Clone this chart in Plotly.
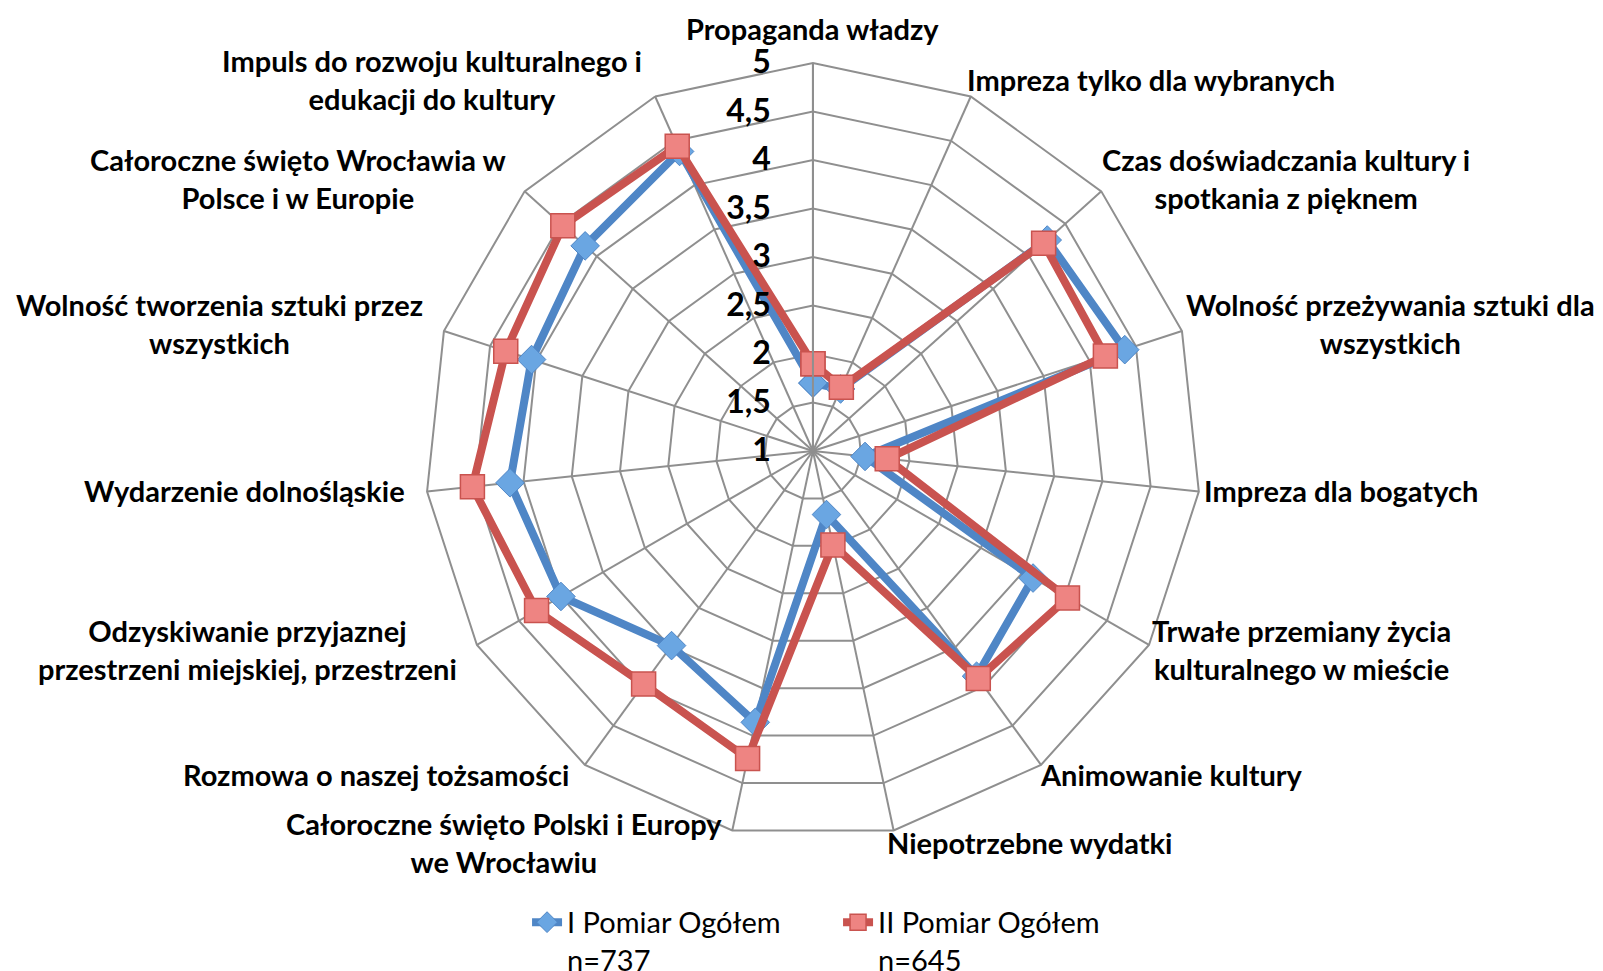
import math
import plotly.graph_objects as go

categories = [
    "Propaganda władzy",
    "Impreza tylko dla wybranych",
    "Czas doświadczania kultury i<br>spotkania z pięknem",
    "Wolność przeżywania sztuki dla<br>wszystkich",
    "Impreza dla bogatych",
    "Trwałe przemiany życia<br>kulturalnego w mieście",
    "Animowanie kultury",
    "Niepotrzebne wydatki",
    "Całoroczne święto Polski i Europy<br>we Wrocławiu",
    "Rozmowa o naszej tożsamości",
    "Odzyskiwanie przyjaznej<br>przestrzeni miejskiej, przestrzeni",
    "Wydarzenie dolnośląskie",
    "Wolność tworzenia sztuki przez<br>wszystkich",
    "Całoroczne święto Wrocławia w<br>Polsce i w Europie",
    "Impuls do rozwoju kulturalnego i<br>edukacji do kultury",
]

pomiar_1 = [1.70, 1.70, 4.25, 4.38, 1.54, 3.62, 3.87, 1.67, 3.86, 3.48, 4.00, 4.14, 4.05, 4.16, 4.38]
pomiar_2 = [1.90, 1.72, 4.20, 4.17, 1.77, 4.03, 3.90, 1.99, 4.24, 3.97, 4.29, 4.53, 4.33, 4.47, 4.44]

series_names = ["I Pomiar Ogółem<br>n=737", "II Pomiar Ogółem<br>n=645"]

radial_tickvals = [1, 1.5, 2, 2.5, 3, 3.5, 4, 4.5, 5]
radial_ticktext = ["1", "1,5", "2", "2,5", "3", "3,5", "4", "4,5", "5"]

W, H = 1603, 971
dom_x = [0.2601, 0.7442]
dom_y = [0.1442, 0.9434]

theta_closed = categories + categories[:1]

fig = go.Figure()
fig.add_trace(go.Scatterpolar(
    r=pomiar_1 + pomiar_1[:1], theta=theta_closed, mode="lines+markers",
    name=series_names[0],
    line=dict(color="#4F86C6", width=8),
    marker=dict(symbol="diamond", size=22, color="#6AA6E2",
                line=dict(color="#4F86C6", width=1)),
))
fig.add_trace(go.Scatterpolar(
    r=pomiar_2 + pomiar_2[:1], theta=theta_closed, mode="lines+markers",
    name=series_names[1],
    line=dict(color="#C9534F", width=8),
    marker=dict(symbol="square", size=24, color="#EE8482",
                line=dict(color="#C9534F", width=1.5)),
))

# category labels placed just outside the polygon, Excel-style (centred multi-line text)
cx = (dom_x[0] + dom_x[1]) / 2 * W
cy = (1 - (dom_y[0] + dom_y[1]) / 2) * H
R = (dom_x[1] - dom_x[0]) * W / 2
n = len(categories)
annotations = []
for i, lab in enumerate(categories):
    a = math.radians(360 * i / n)
    s, c = math.sin(a), math.cos(a)
    rr = R + 15
    px = cx + rr * s
    py = cy - rr * c - 3
    if abs(s) < 1e-6:
        xa, ya = "center", "bottom"
        py += 3
    elif s > 0:
        xa, ya = "left", "middle"
        px -= 12
    else:
        xa, ya = "right", "middle"
        px -= 5
    annotations.append(dict(
        text=lab, x=px / W, y=1 - py / H, xref="paper", yref="paper",
        xanchor=xa, yanchor=ya, align="center", showarrow=False,
        font=dict(size=29, family="Lato", color="black", weight="bold"),
    ))

grid = "#8F8F8F"
fig.update_layout(
    width=W, height=H,
    paper_bgcolor="white", plot_bgcolor="white",
    margin=dict(l=0, r=0, t=0, b=0, autoexpand=False),
    font=dict(family="Lato", color="black"),
    showlegend=True,
    legend=dict(orientation="h", x=0.3238, xanchor="left", y=-0.007, yanchor="bottom",
                font=dict(size=29, family="Lato", color="black"), entrywidth=266,
                valign="top", bgcolor="rgba(0,0,0,0)"),
    annotations=annotations,
    polar=dict(
        domain=dict(x=dom_x, y=dom_y),
        bgcolor="white",
        gridshape="linear",
        angularaxis=dict(
            rotation=90, direction="clockwise", type="category",
            categoryarray=categories, categoryorder="array",
            showgrid=True, gridcolor=grid, gridwidth=2,
            showline=True, linecolor=grid, linewidth=2,
            ticks="", showticklabels=False,
        ),
        radialaxis=dict(
            angle=90, tickangle=90,
            range=[1, 5], tickvals=radial_tickvals, ticktext=radial_ticktext,
            showgrid=True, gridcolor=grid, gridwidth=2,
            showline=True, linecolor=grid, linewidth=2,
            ticks="outside", ticklen=30, tickcolor="rgba(0,0,0,0)",
            side="counterclockwise",
            tickfont=dict(size=32, family="Lato", color="black", weight="bold"),
        ),
    ),
)

fig.write_html("out.html")
